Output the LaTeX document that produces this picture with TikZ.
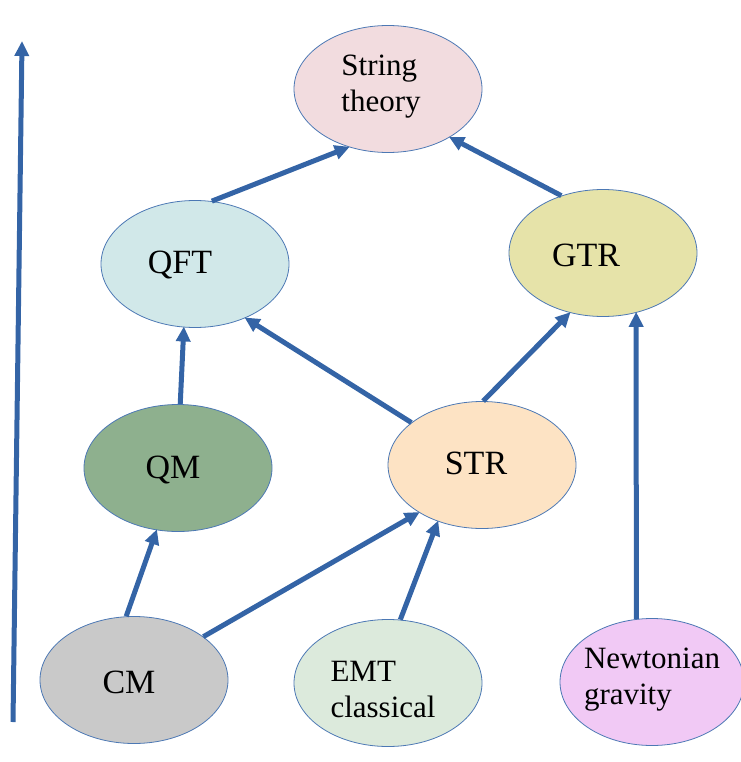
\documentclass[tikz,border=0pt]{standalone}
\usepackage{fontspec}
\setmainfont{Liberation Serif}
\usetikzlibrary{shapes.geometric,arrows.meta}
\definecolor{arrowblue}{HTML}{3464A6}
\definecolor{edgeblue}{HTML}{4C78B4}
\definecolor{cstring}{HTML}{F2DCDF}
\definecolor{cqft}{HTML}{D1E8E9}
\definecolor{cgtr}{HTML}{E6E3A9}
\definecolor{cqm}{HTML}{8EB08E}
\definecolor{cstr}{HTML}{FDE3C4}
\definecolor{ccm}{HTML}{C9C9C9}
\definecolor{cemt}{HTML}{DCEADC}
\definecolor{cnewt}{HTML}{F1C9F5}
\tikzset{
  ell/.style={ellipse, draw=edgeblue, line width=0.8pt, minimum width=188pt, minimum height=127pt, inner sep=0pt},
  txt/.style={font=\fontsize{31}{36}\selectfont, align=left, inner sep=0pt},
  bigtxt/.style={font=\fontsize{34}{40}\selectfont, inner sep=0pt},
  arr/.style={draw=arrowblue, line width=5pt, -{Triangle[length=15pt,width=14pt]}, shorten >=-1pt}
}
\begin{document}
\begin{tikzpicture}[x=1pt,y=-1pt]
\useasboundingbox (0,0) rectangle (740,762);
% ellipses
\node[ell, fill=cstring] (st) at (388,89) {};
\node[ell, fill=cqft] (qft) at (195,264) {};
\node[ell, fill=cgtr] (gtr) at (603,253) {};
\node[ell, fill=cqm] (qm) at (178,468) {};
\node[ell, fill=cstr] (str) at (482,465) {};
\node[ell, fill=ccm] (cm) at (134,680) {};
\node[ell, fill=cemt] (emt) at (388,683) {};
\node[ell, fill=cnewt, minimum width=184pt] (newt) at (652,682) {};
% labels
\node[txt] (lst) at (381,87) {String\\theory};
\node[bigtxt] (lqft) at (180,265) {QFT};
\node[bigtxt] (lgtr) at (586,255) {GTR};
\node[bigtxt] (lqm) at (173,470) {QM};
\node[bigtxt] (lstr) at (476,463) {STR};
\node[bigtxt] (lcm) at (129,682) {CM};
\node[txt] (lemt) at (383,689) {EMT\\classical};
\node[txt] (lnewt) at (652,680) {Newtonian\\gravity};
% axis
\coordinate (axb) at (13,722);
\coordinate (axt) at (22,42);
\draw[arr] (axb) -- (axt);
% connectors
\draw[arr] (qft.75) -- (st.236);
\draw[arr] (gtr.126) -- (st.322);
\draw[arr] (qm.88) -- (qft.260);
\draw[arr] (str.149) -- (qft.313);
\draw[arr] (str.89) -- (gtr.241);
\draw[arr] (cm.97) -- (qm.251);
\draw[arr] (cm.32) -- (str.217);
\draw[arr] (emt.79) -- (str.232);
\draw[arr] (newt.104) -- (gtr.299);
\end{tikzpicture}
\end{document}
